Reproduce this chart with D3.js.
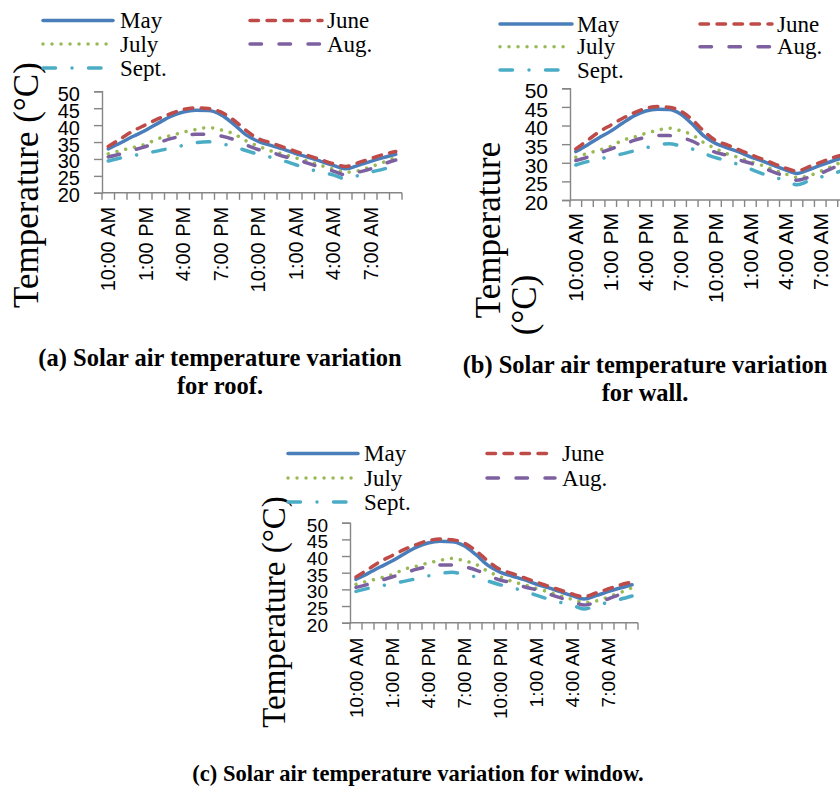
<!DOCTYPE html>
<html>
<head>
<meta charset="utf-8">
<script src="https://cdn.jsdelivr.net/npm/d3@7"></script>
<style>
  html, body { margin: 0; padding: 0; background: #fff; }
  svg { display: block; }
</style>
</head>
<body>
<svg id="chart" width="840" height="807"></svg>
<script>
// Hourly categories, 10:00 AM through 9:00 AM the next morning
const hours = [
  "10:00 AM", "11:00 AM", "12:00 PM", "1:00 PM", "2:00 PM", "3:00 PM",
  "4:00 PM", "5:00 PM", "6:00 PM", "7:00 PM", "8:00 PM", "9:00 PM",
  "10:00 PM", "11:00 PM", "12:00 AM", "1:00 AM", "2:00 AM", "3:00 AM",
  "4:00 AM", "5:00 AM", "6:00 AM", "7:00 AM", "8:00 AM", "9:00 AM"
];

// Solar air temperature (°C) per month
const may  = [33.0, 34.8, 36.7, 38.5, 40.6, 42.6, 43.9, 44.4, 44.3, 43.1, 40.4, 37.2,
              35.2, 34.0, 32.9, 31.6, 30.5, 29.3, 28.1, 27.1, 28.1, 29.3, 30.4, 31.4];
const june = [33.7, 36.0, 38.3, 40.1, 41.9, 43.4, 44.6, 45.1, 44.9, 43.9, 41.6, 38.5,
              36.0, 34.8, 33.5, 32.2, 31.0, 29.8, 28.6, 27.8, 28.9, 30.1, 31.3, 32.2];
const july = [31.5, 32.5, 33.4, 34.4, 36.0, 36.9, 37.9, 38.7, 39.3, 38.6, 37.5, 35.4,
              33.8, 32.4, 31.4, 30.3, 29.3, 28.1, 27.0, 26.1, 26.5, 27.7, 29.0, 30.5];
const aug  = [30.6, 31.5, 32.6, 33.7, 34.8, 36.0, 36.8, 37.3, 37.3, 36.8, 35.8, 34.2,
              32.8, 32.0, 30.8, 29.9, 28.7, 27.5, 26.4, 25.3, 26.1, 27.1, 28.5, 29.7];
const sept = [29.4, 30.3, 31.0, 31.7, 32.4, 33.2, 34.0, 34.8, 35.1, 34.5, 33.7, 32.5,
              31.4, 30.5, 29.5, 28.3, 27.1, 26.1, 25.3, 24.1, 25.1, 26.1, 27.0, 28.0];

const yTicks = [20, 25, 30, 35, 40, 45, 50];
const seriesNames = ["May", "June", "July", "Aug.", "Sept."];
const seriesValues = [may, june, july, aug, sept];

const captions = {
  roof:   ["(a) Solar air temperature variation", "for roof."],
  wall:   ["(b) Solar air temperature variation", "for wall."],
  window: ["(c) Solar air temperature variation for window."]
};

// Line styles per series (width 3.5, round caps)
const styles = [
  { color: "#4a7ebb", dash: null },
  { color: "#be4b48", dash: "8.5,8.5" },
  { color: "#98b954", dash: "0.01,9" },
  { color: "#7d60a0", dash: "11.5,17.5" },
  { color: "#4bacc6", dash: "12.5,16.5,0.01,16.5" }
];

const svg = d3.select("#chart");
const AXIS = "#868686";
const SANS = "'Liberation Sans', Arial, sans-serif";
const SERIF = "'Liberation Serif', 'Times New Roman', serif";

function drawPanel(p) {
  const g = svg.append("g");

  const x = d3.scaleBand().domain(hours).range([p.x0, p.x0 + p.bw * hours.length]).padding(0);
  const y = d3.scaleLinear().domain([20, 50]).range([p.yBot, p.yTop]);

  // y axis
  const yAxis = g.append("g").attr("transform", `translate(${p.x0},0)`)
    .call(d3.axisLeft(y).tickValues(yTicks).tickSize(8).tickPadding(p.yPad));
  yAxis.select(".domain").attr("stroke", AXIS).attr("stroke-width", 1.4);
  yAxis.selectAll(".tick line").attr("stroke", AXIS).attr("stroke-width", 1.4);
  yAxis.selectAll(".tick text")
    .attr("font-family", SANS).attr("font-size", p.yFont).attr("fill", "#000")
    .attr("dy", "0.45em");

  // x axis: tick marks on category boundaries, labels every third hour
  const xa = g.append("g").attr("transform", `translate(0,${p.yBot})`);
  const bounds = d3.range(hours.length + 1).map(i => p.x0 + i * x.bandwidth());
  xa.append("line")
    .attr("x1", bounds[0]).attr("x2", bounds[bounds.length - 1])
    .attr("y1", 0).attr("y2", 0)
    .attr("stroke", AXIS).attr("stroke-width", 1.4);
  xa.selectAll("line.tk").data(bounds).join("line")
    .attr("class", "tk")
    .attr("x1", d => d).attr("x2", d => d)
    .attr("y1", 0).attr("y2", 7)
    .attr("stroke", AXIS).attr("stroke-width", 1.4);
  xa.selectAll("text").data(hours.filter((h, i) => i % 3 === 0)).join("text")
    .attr("transform", d => `translate(${x(d) + x.bandwidth() / 2},${p.xPad}) rotate(-90)`)
    .attr("text-anchor", "end")
    .attr("dy", "0.36em")
    .attr("font-family", SANS).attr("font-size", p.xFont).attr("fill", "#000")
    .text(d => d);

  // series lines
  const line = d3.line()
    .x((d, i) => x(hours[i]) + x.bandwidth() / 2)
    .y(d => y(d))
    .curve(d3.curveMonotoneX);
  seriesValues.forEach((vals, k) => {
    g.append("path")
      .attr("d", line(vals))
      .attr("fill", "none")
      .attr("stroke", styles[k].color)
      .attr("stroke-width", 3.5)
      .attr("stroke-linecap", "round")
      .attr("stroke-linejoin", "round")
      .attr("stroke-dasharray", styles[k].dash);
  });

  // y axis title
  const title = g.append("text")
    .attr("transform", `translate(${p.titleX},${p.titleY}) rotate(-90)`)
    .attr("text-anchor", "middle")
    .attr("font-family", SERIF).attr("font-size", p.titleFont).attr("fill", "#000");
  p.titleLines.forEach((t, i) => {
    title.append("tspan")
      .attr("x", p.titleLineOffsets ? p.titleLineOffsets[i] : 0)
      .attr("y", i * p.titleLineGap)
      .text(t);
  });

  // legend: two columns, May/July/Sept left and June/Aug. right
  const slots = [[0, 0], [1, 0], [0, 1], [1, 1], [0, 2]];
  seriesNames.forEach((name, k) => {
    const [col, row] = slots[k];
    const c = p.legendCols[col];
    const ly = p.legendRows[row];
    g.append("line")
      .attr("x1", c[0]).attr("x2", c[1]).attr("y1", ly).attr("y2", ly)
      .attr("stroke", styles[k].color).attr("stroke-width", 3.5)
      .attr("stroke-linecap", "round")
      .attr("stroke-dasharray", styles[k].dash);
    g.append("text")
      .attr("x", c[2]).attr("y", ly + 7.5)
      .attr("font-family", SERIF).attr("font-size", p.legendFont).attr("fill", "#000")
      .text(name);
  });

  // caption
  p.caption.forEach((t, i) => {
    g.append("text")
      .attr("x", p.capX).attr("y", p.capY[i])
      .attr("text-anchor", "middle")
      .attr("font-family", SERIF).attr("font-weight", "bold")
      .attr("font-size", p.capFont).attr("fill", "#000")
      .text(t);
  });
}

drawPanel({
  x0: 102, bw: 12.5, yTop: 91.3, yBot: 192.8,
  xFont: 20, yFont: 20, xPad: 14, yPad: 14,
  titleLines: ["Temperature (°C)"], titleX: 38, titleY: 185, titleFont: 35, titleLineGap: 0,
  legendCols: [[43, 113, 120], [250, 322, 327]], legendRows: [20.5, 44, 68], legendFont: 23,
  caption: captions.roof, capX: 220, capY: [366, 394], capFont: 24.5
});

drawPanel({
  x0: 570, bw: 11.64, yTop: 88.3, yBot: 200,
  xFont: 21, yFont: 21, xPad: 13, yPad: 14,
  titleLines: ["Temperature", "(°C)"], titleX: 500, titleY: 230, titleFont: 35, titleLineGap: 36,
  titleLineOffsets: [0, -75],
  legendCols: [[500, 572, 577], [700, 772, 777]], legendRows: [24, 46.7, 70], legendFont: 23,
  caption: captions.wall, capX: 645, capY: [373, 401], capFont: 24.5
});

drawPanel({
  x0: 350, bw: 12, yTop: 522.7, yBot: 622.7,
  xFont: 19, yFont: 19, xPad: 15, yPad: 14,
  titleLines: ["Temperature (°C)"], titleX: 285, titleY: 612, titleFont: 33, titleLineGap: 0,
  legendCols: [[288, 358, 364], [487, 555, 562]], legendRows: [453.5, 478, 502], legendFont: 23,
  caption: captions.window, capX: 418, capY: [781], capFont: 22.5
});
</script>
</body>
</html>
